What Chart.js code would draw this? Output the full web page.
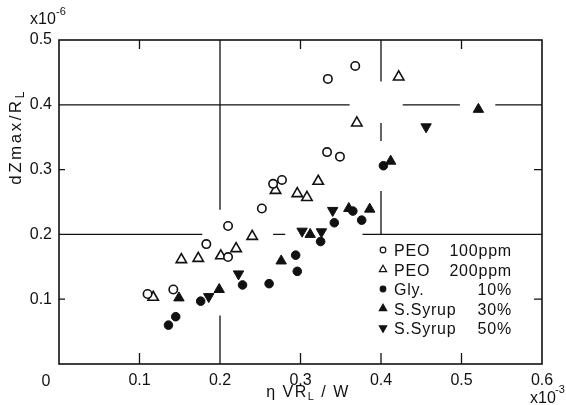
<!DOCTYPE html>
<html><head><meta charset="utf-8">
<script src="https://cdn.jsdelivr.net/npm/chart.js@4/dist/chart.umd.min.js"></script>
<style>html,body{margin:0;padding:0;background:#fff}#wrap{width:566px;height:405px}</style>
</head><body><div id="wrap"><canvas id="c" width="566" height="405"></canvas></div>
<script>
// ---- data (x in 1e-3, y in 1e-6) ----
const peo100X = [0.110, 0.142, 0.183, 0.210, 0.210, 0.252, 0.266, 0.277, 0.333, 0.349, 0.334, 0.368];
const peo100Y = [0.108, 0.115, 0.185, 0.165, 0.213, 0.240, 0.278, 0.284, 0.327, 0.320, 0.440, 0.460];
const peo200X = [0.117, 0.152, 0.173, 0.201, 0.220, 0.240, 0.269, 0.296, 0.308, 0.322, 0.370, 0.422];
const peo200Y = [0.103, 0.161, 0.163, 0.167, 0.178, 0.197, 0.268, 0.263, 0.257, 0.282, 0.372, 0.443];
const gly10X = [0.136, 0.145, 0.176, 0.228, 0.261, 0.296, 0.294, 0.325, 0.342, 0.365, 0.376, 0.403];
const gly10Y = [0.060, 0.073, 0.097, 0.122, 0.124, 0.143, 0.168, 0.189, 0.218, 0.236, 0.222, 0.306];
const syr30X = [0.149, 0.199, 0.276, 0.312, 0.360, 0.386, 0.412, 0.521];
const syr30Y = [0.102, 0.115, 0.159, 0.200, 0.240, 0.239, 0.313, 0.393];
const syr50X = [0.186, 0.223, 0.302, 0.326, 0.340, 0.456];
const syr50Y = [0.104, 0.139, 0.205, 0.204, 0.237, 0.366];
const seriesNames = ['PEO', 'PEO', 'Gly.', 'S.Syrup', 'S.Syrup'];
const seriesConc = ['100ppm', '200ppm', '10%', '30%', '50%'];
const xTicks = [0.1, 0.2, 0.3, 0.4, 0.5, 0.6];
const yTicks = [0.1, 0.2, 0.3, 0.4, 0.5];
const xUnit = '-3';
const yUnit = '-6';

const toPts = (xs, ys) => xs.map((x, i) => ({x: x, y: ys[i]}));
const INK = '#111';
const FONT = '"Liberation Sans", Arial, sans-serif';

const datasets = [
  {data: toPts(peo100X, peo100Y), pointStyle: 'circle', pointRadius: 4.2, backgroundColor: '#fff', borderColor: INK, borderWidth: 1.6},
  {data: toPts(peo200X, peo200Y), pointStyle: 'triangle', pointRadius: 6, backgroundColor: '#fff', borderColor: INK, borderWidth: 1.6},
  {data: toPts(gly10X, gly10Y), pointStyle: 'circle', pointRadius: 4.3, backgroundColor: INK, borderColor: INK, borderWidth: 1},
  {data: toPts(syr30X, syr30Y), pointStyle: 'triangle', pointRadius: 6, backgroundColor: INK, borderColor: INK, borderWidth: 1},
  {data: toPts(syr50X, syr50Y), pointStyle: 'triangle', rotation: 180, pointRadius: 6, backgroundColor: INK, borderColor: INK, borderWidth: 1}
].map((d, i) => Object.assign(d, {label: seriesNames[i] + ' ' + seriesConc[i], showLine: false, pointHoverRadius: d.pointRadius}));

// decorative broken grid lines, in data units
const vSegs = [[0.2, 0.238, 0.5], [0.2, 0, 0.075], [0.4, 0.436, 0.5], [0.4, 0.344, 0.372], [0.4, 0.2, 0.267]];
const hSegs = [[0.4, 0, 0.361], [0.4, 0.427, 0.498], [0.4, 0.542, 0.6], [0.2, 0, 0.178], [0.2, 0.266, 0.281], [0.2, 0.377, 0.6]];

const deco = {
  id: 'deco',
  beforeDatasetsDraw(chart) {
    const {ctx, chartArea: a, scales: {x, y}} = chart;
    ctx.save();
    ctx.strokeStyle = INK;
    ctx.lineWidth = 1.3;
    ctx.beginPath();
    vSegs.forEach(([xv, y0, y1]) => { const px = x.getPixelForValue(xv); ctx.moveTo(px, y.getPixelForValue(y0)); ctx.lineTo(px, y.getPixelForValue(y1)); });
    hSegs.forEach(([yv, x0, x1]) => { const py = y.getPixelForValue(yv); ctx.moveTo(x.getPixelForValue(x0), py); ctx.lineTo(x.getPixelForValue(x1), py); });
    [0.1, 0.3, 0.4, 0.5].forEach(v => { const px = x.getPixelForValue(v); ctx.moveTo(px, a.bottom); ctx.lineTo(px, a.bottom - 11); });
    [0.1, 0.3, 0.5].forEach(v => { const px = x.getPixelForValue(v); ctx.moveTo(px, a.top); ctx.lineTo(px, a.top + 9); });
    [0.1, 0.3].forEach(v => { const py = y.getPixelForValue(v); ctx.moveTo(a.left, py); ctx.lineTo(a.left + 6, py); ctx.moveTo(a.right, py); ctx.lineTo(a.right - 8, py); });
    ctx.stroke();
    ctx.lineWidth = 1.6;
    ctx.strokeRect(a.left, a.top, a.right - a.left, a.bottom - a.top);
    ctx.restore();
  },
  afterDraw(chart) {
    const {ctx, chartArea: a} = chart;
    ctx.save();
    ctx.fillStyle = INK;
    ctx.textBaseline = 'alphabetic';
    ctx.font = '16px ' + FONT;
    ctx.textAlign = 'center';
    ctx.fillText('0', a.left - 13, a.bottom + 22);
    ctx.textAlign = 'left';
    ctx.fillText('x10', 30, 24);
    ctx.font = '11px ' + FONT;
    ctx.fillText(yUnit, 56, 15);
    ctx.font = '16px ' + FONT;
    ctx.fillText('x10', 530, 403);
    ctx.font = '11px ' + FONT;
    ctx.fillText(xUnit, 555, 393);
    const drawParts = (parts, cx, cy) => {
      let w = 0;
      parts.forEach(p => { ctx.font = p[1] + 'px ' + FONT; w += ctx.measureText(p[0]).width; });
      let px = cx - w / 2;
      parts.forEach(p => { ctx.font = p[1] + 'px ' + FONT; ctx.fillText(p[0], px, cy + p[2]); px += ctx.measureText(p[0]).width; });
    };
    ctx.letterSpacing = '1.5px';
    drawParts([['\u03B7 VR', 16, 0], ['L', 11, 3], [' / W', 16, 0]], 308, 397);
    ctx.save();
    ctx.translate(21, 137);
    ctx.rotate(-Math.PI / 2);
    ctx.letterSpacing = '2.5px';
    drawParts([['dZmax/R', 17, 0], ['L', 12, 3]], 0, 0);
    ctx.restore();
    // legend
    const lx = 383, tx = 394, rx = 512, ly0 = 250, dy = 19.5;
    ctx.letterSpacing = '0.8px';
    chart.data.datasets.forEach((ds, i) => {
      const cy = ly0 + i * dy;
      ctx.fillStyle = ds.backgroundColor; ctx.strokeStyle = INK; ctx.lineWidth = 1.2;
      Chart.helpers.drawPoint(ctx, {pointStyle: ds.pointStyle, rotation: ds.rotation || 0, radius: ds.pointStyle === 'circle' ? 2.8 : 4.2, borderWidth: 1.2}, lx, cy);
      ctx.fillStyle = INK;
      ctx.font = '16px ' + FONT;
      ctx.textAlign = 'left';
      ctx.fillText(seriesNames[i], tx, cy + 6);
      ctx.textAlign = 'right';
      ctx.fillText(seriesConc[i], rx, cy + 6);
    });
    ctx.restore();
  }
};

new Chart(document.getElementById('c'), {
  type: 'scatter',
  data: {datasets: datasets},
  options: {
    responsive: false, animation: false, devicePixelRatio: 1,
    layout: {padding: {top: 40, right: 24, left: 0, bottom: 0}},
    plugins: {legend: {display: false}, tooltip: {enabled: false}},
    scales: {
      x: {type: 'linear', min: 0, max: 0.6,
        afterBuildTicks: s => { s.ticks = xTicks.map(v => ({value: v})); },
        afterFit: s => { s.height = 41; },
        ticks: {callback: v => v.toFixed(1), font: {size: 16, family: FONT}, color: INK, padding: 7, maxRotation: 0, autoSkip: false},
        grid: {display: false, drawTicks: false}, border: {display: false}},
      y: {type: 'linear', min: 0, max: 0.5,
        afterBuildTicks: s => { s.ticks = yTicks.map(v => ({value: v})); },
        afterFit: s => { s.width = 59; },
        ticks: {callback: v => v.toFixed(1), font: {size: 16, family: FONT}, color: INK, padding: 7},
        grid: {display: false, drawTicks: false}, border: {display: false}}
    }
  },
  plugins: [deco]
});
</script></body></html>
